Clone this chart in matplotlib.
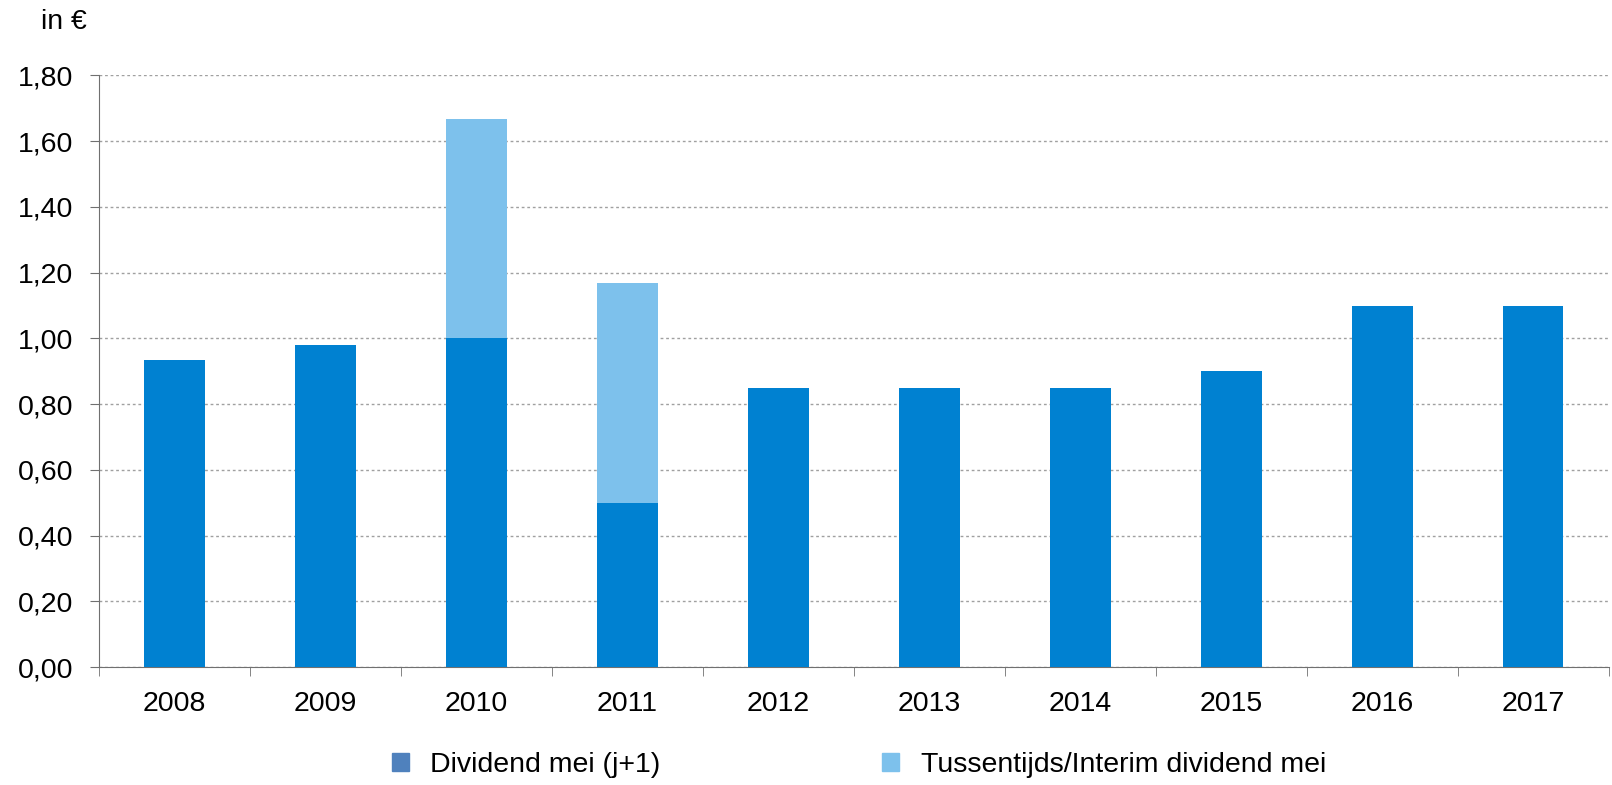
import numpy as np
import matplotlib.pyplot as plt
from matplotlib.patches import Patch

plt.rcParams['font.family'] = ['Liberation Sans', 'DejaVu Sans']

years = ['2008', '2009', '2010', '2011', '2012', '2013', '2014', '2015', '2016', '2017']
dividend = [0.933, 0.98, 1.00, 0.50, 0.85, 0.85, 0.85, 0.90, 1.10, 1.10]
interim = [0, 0, 0.667, 0.67, 0, 0, 0, 0, 0, 0]
yticks = [0.0, 0.2, 0.4, 0.6, 0.8, 1.0, 1.2, 1.4, 1.6, 1.8]

dark = '#0081D1'
light = '#7DC1EC'
legend_dark = '#4F81BD'
fs = 20.5

fig = plt.figure(figsize=(16.12, 7.85), dpi=100)
ax = fig.add_axes([0.0614, 0.150, 0.9366, 0.754])

x = np.arange(len(years))
ax.bar(x, dividend, width=0.4, color=dark, zorder=3)
ax.bar(x, interim, width=0.4, bottom=dividend, color=light, zorder=3)

ax.set_xlim(-0.5, len(years) - 0.5)
ax.set_ylim(0, 1.8)
ax.set_yticks(yticks)
ax.set_yticklabels(['{:.2f}'.format(v).replace('.', ',') for v in yticks], fontsize=fs)
ax.set_xticks(x)
ax.set_xticklabels(years, fontsize=fs)
ax.set_xticks(np.arange(-0.5, len(years)), minor=True)
ax.tick_params(axis='x', which='major', length=0, pad=17)
ax.tick_params(axis='x', which='minor', length=6.5, color='#707070', direction='out')
ax.tick_params(axis='y', length=6.5, color='#707070', direction='out', pad=12)
ax.yaxis.grid(True, linestyle=(0, (2, 2)), color='#A0A0A0', linewidth=1, zorder=0)

for s in ['top', 'right']:
    ax.spines[s].set_visible(False)
for s in ['left', 'bottom']:
    ax.spines[s].set_color('#707070')

fig.text(0.0255, 0.972, 'in €', fontsize=fs, va='center')

handles = [Patch(color=legend_dark, label='Dividend mei (j+1)'),
           Patch(color=light, label='Tussentijds/Interim dividend mei')]
fig.legend(handles=handles, loc='center left', bbox_to_anchor=(0.227, 0.026), ncol=2,
           frameon=False, fontsize=fs, handlelength=0.6, handleheight=0.6,
           columnspacing=7.8, handletextpad=0.75)

fig.savefig('out.png', dpi=100)
